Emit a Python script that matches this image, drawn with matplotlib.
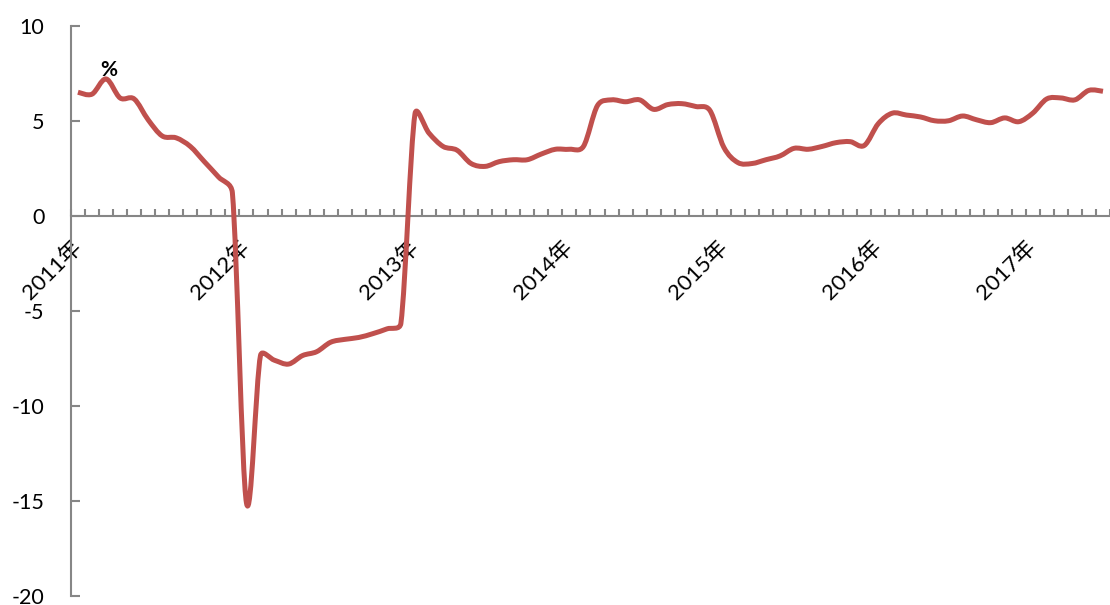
import numpy as np
import matplotlib
matplotlib.use('Agg')
import matplotlib.pyplot as plt
from matplotlib.path import Path
from matplotlib.patches import PathPatch

# 字体：数字用 Lato，"年" 用思源黑体
plt.rcParams['font.family'] = ['Lato', 'Noto Sans CJK SC', 'DejaVu Sans']

# 月度数据（1、2月合并），单位 %
values = [6.5, 6.4, 7.2, 6.2, 6.15, 5.05, 4.2, 4.1, 3.65, 2.85, 2.05, 1.2,
          -15.1, -7.35, -7.6, -7.8, -7.35, -7.15, -6.65, -6.5, -6.4, -6.2, -5.95, -5.65,
          5.35, 4.35, 3.65, 3.45, 2.75, 2.6, 2.85, 2.95, 2.95, 3.25, 3.5,
          3.5, 3.65, 5.8, 6.1, 6.0, 6.1, 5.6, 5.85, 5.9, 5.75, 5.55,
          3.6, 2.8, 2.75, 2.95, 3.15, 3.55, 3.5, 3.65, 3.85, 3.9, 3.7,
          4.85, 5.4, 5.3, 5.2, 5.0, 5.0, 5.25, 5.05, 4.9, 5.15, 4.95,
          5.4, 6.15, 6.2, 6.1, 6.6, 6.55]
year_pos = [0, 12, 24, 35, 46, 57, 68]
year_labels = ['2011年', '2012年', '2013年', '2014年', '2015年', '2016年', '2017年']
y_ticks = [-20, -15, -10, -5, 0, 5, 10]

fig = plt.figure(figsize=(11.1, 6.05), dpi=100)
ax = fig.add_axes([0.0639, 0.0149, 0.9361, 0.9426])
ax.set_xlim(-0.5, 73.0)
ax.set_ylim(-20, 10)

x = np.arange(len(values), dtype=float)
y = np.array(values)

# 平滑曲线：Catmull-Rom 切线 (1/6)，控制点长度限制在相邻线段一半以内
sx, sy = 14.135, 19.0
P = np.column_stack([x * sx, y * sy])
n = len(P)
T = np.zeros_like(P)
for i in range(n):
    a = P[max(i - 1, 0)]
    b = P[min(i + 1, n - 1)]
    T[i] = (b - a) / 6.0

def ctrl(p, t, seg):
    L = np.linalg.norm(t)
    lim = 0.5 * np.linalg.norm(seg)
    if L > lim and L > 0:
        t = t * lim / L
    return t

verts = [(x[0], y[0])]
codes = [Path.MOVETO]
for i in range(n - 1):
    seg = P[i + 1] - P[i]
    c1 = P[i] + ctrl(P[i], T[i], seg)
    c2 = P[i + 1] - ctrl(P[i + 1], T[i + 1], seg)
    for c in (c1, c2, P[i + 1]):
        verts.append((c[0] / sx, c[1] / sy))
    codes += [Path.CURVE4] * 3
patch = PathPatch(Path(verts, codes), facecolor='none', edgecolor='#C0504D',
                  linewidth=3.6, capstyle='butt', joinstyle='round', zorder=3)
ax.add_patch(patch)

# 坐标轴样式
for s in ['top', 'right']:
    ax.spines[s].set_visible(False)
ax.spines['left'].set_color('#868686')
ax.spines['bottom'].set_color('#868686')
ax.spines['left'].set_linewidth(1.5)
ax.spines['bottom'].set_linewidth(1.5)
ax.spines['bottom'].set_position(('data', 0))

ax.set_yticks(y_ticks)
ax.set_yticklabels([str(t) for t in y_ticks])
ax.tick_params(axis='y', direction='in', length=6.5, width=1.5, color='#868686',
               pad=19, labelsize=15.5, labelcolor='black')

ax.set_xticks(np.arange(-0.5, 74.5, 1.0), minor=True)
ax.set_xticks(year_pos)
ax.set_xticklabels(year_labels)
ax.tick_params(axis='x', which='minor', direction='in', length=5, width=1.5, color='#868686')
ax.tick_params(axis='x', which='major', length=0, pad=20, labelsize=16)
for lab in ax.get_xticklabels():
    lab.set_rotation(45)
    lab.set_ha('right')
    lab.set_va('center')
    lab.set_rotation_mode('anchor')

ax.text(2.2, 7.67, '%', fontsize=15, fontweight='bold', ha='center', va='center')

fig.savefig('out.png', dpi=100)
